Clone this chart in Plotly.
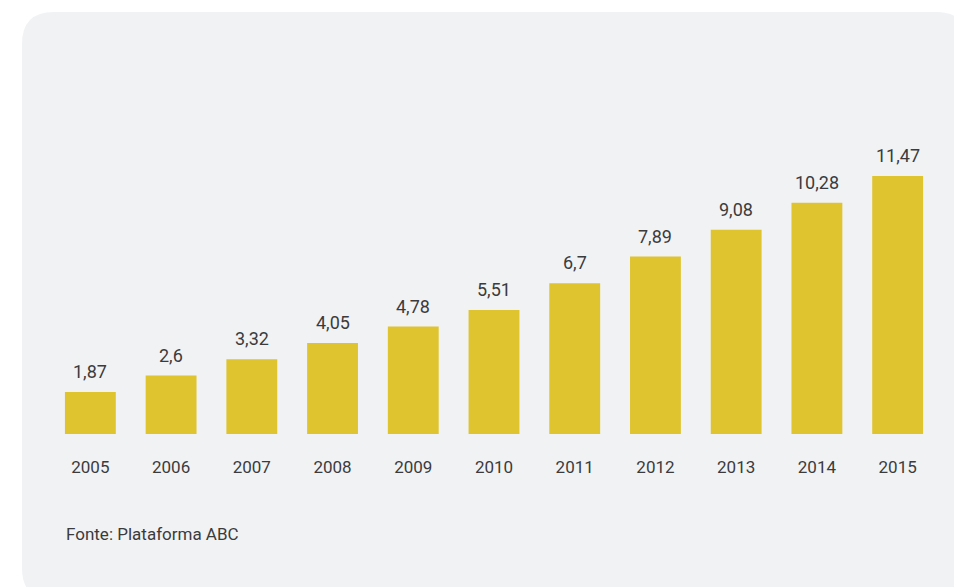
import plotly.graph_objects as go

years = ["2005", "2006", "2007", "2008", "2009", "2010", "2011", "2012", "2013", "2014", "2015"]
values = [1.87, 2.6, 3.32, 4.05, 4.78, 5.51, 6.7, 7.89, 9.08, 10.28, 11.47]
labels = [str(v).replace(".", ",") for v in values]
source = "Fonte: Plataforma ABC"

W, H = 954, 587
ML, MR, MT, MB = 50, 16, 100, 153
PW, PH = W - ML - MR, H - MT - MB

def xp(px):
    return (px - ML) / PW

def yp(py):
    return (H - MB - py) / PH

BAR = "#DFC42F"
TXT = "#3b3b3d"
FONT = "Roboto"

fig = go.Figure()
fig.add_trace(go.Bar(x=years, y=values, marker=dict(color=BAR, line=dict(width=0)),
                     width=0.63, hoverinfo="skip"))

for i, (v, t) in enumerate(zip(values, labels)):
    fig.add_annotation(x=i, y=v, xref="x", yref="y", text=t, showarrow=False,
                       yanchor="bottom", yshift=8,
                       font=dict(family=FONT, size=18, color=TXT))

fig.add_annotation(xref="paper", yref="paper", x=xp(64), y=yp(534), text=source,
                   showarrow=False, xanchor="left", yanchor="middle",
                   font=dict(family=FONT, size=17, color=TXT))

# rounded panel (window pixel coords)
x0, x1, y0, y1, r = 22, 968, 12, 600, 32
def P(px, py):
    return f"{xp(px)},{yp(py)}"
path = (f"M {P(x0 + r, y0)} L {P(x1 - r, y0)} Q {P(x1, y0)} {P(x1, y0 + r)} "
        f"L {P(x1, y1 - r)} Q {P(x1, y1)} {P(x1 - r, y1)} "
        f"L {P(x0 + r, y1)} Q {P(x0, y1)} {P(x0, y1 - r)} "
        f"L {P(x0, y0 + r)} Q {P(x0, y0)} {P(x0 + r, y0)} Z")
fig.add_shape(type="path", path=path, xref="paper", yref="paper",
              fillcolor="#F1F2F4", line=dict(width=0), layer="below")

fig.update_layout(
    width=W, height=H,
    margin=dict(l=ML, r=MR, t=MT, b=MB),
    paper_bgcolor="white", plot_bgcolor="rgba(0,0,0,0)",
    showlegend=False, bargap=0.37,
    xaxis=dict(type="category", showgrid=False, showline=False, zeroline=False, ticks="",
               ticklabelstandoff=21, tickfont=dict(family=FONT, size=17, color=TXT),
               range=[-0.5, 10.5], fixedrange=True),
    yaxis=dict(visible=False, range=[0, PH / 22.49], fixedrange=True),
)

fig.write_html("out.html", config={"displayModeBar": False},
               post_script="document.body.style.margin='0';document.body.style.overflow='hidden';")
